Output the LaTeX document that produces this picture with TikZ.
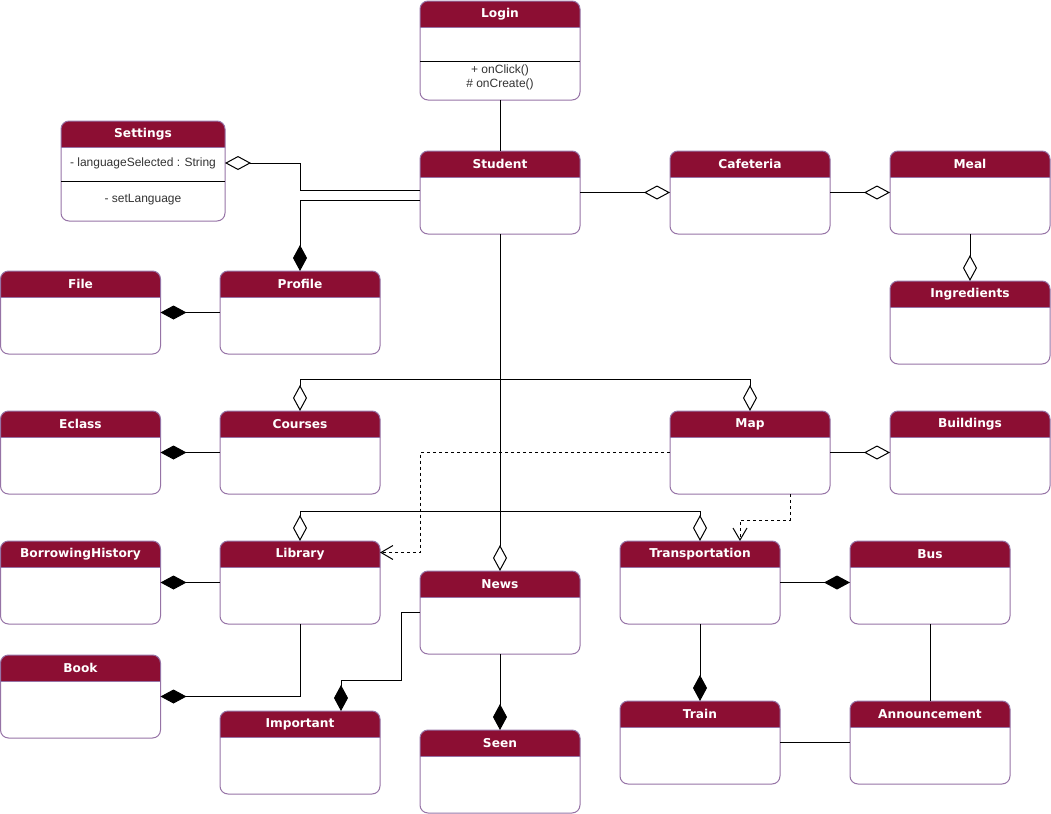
\documentclass[tikz,border=0pt]{standalone}
\usepackage{fontspec}
\usepackage{xcolor}
\usetikzlibrary{arrows.meta}
\newfontfamily\headfont{DejaVu Sans}
\newfontfamily\bodyfont{Liberation Sans}
\definecolor{umlred}{RGB}{140,14,51}
\definecolor{umlline}{RGB}{150,115,166}
\definecolor{umltext}{RGB}{51,51,51}
% class box: [size], name, top centre (px), title
\newcommand{\umlclass}[4][]{%
  \node[classbox,#1] (#2) at (#3) {};
  \begin{scope}
    \clip (#2.north west) rectangle ([yshift=-13pt]#2.north east);
    \fill[umlred,rounded corners=4pt] (#2.north west) rectangle (#2.south east);
  \end{scope}
  \draw[classline] ([yshift=-13pt]#2.north west) -- ([yshift=-13pt]#2.north east);
  \draw[classline,rounded corners=4pt] (#2.north west) rectangle (#2.south east);
  \node[classtitle] (#2-title) at ([yshift=-6.7pt]#2.north) {#4};
}

\begin{document}
\begin{tikzpicture}[x=0.5pt,y=-0.5pt,
    classbox/.style={rectangle,fill=white,inner sep=0pt,outer sep=0pt,
      minimum width=80pt,minimum height=41.5pt,anchor=north},
    classline/.style={umlline,line width=0.5pt},
    classtitle/.style={text=white,inner sep=0pt,
      font=\headfont\bfseries\fontsize{6.1}{7}\selectfont},
    member/.style={text=umltext,inner sep=0pt,
      font=\bodyfont\fontsize{6}{7}\selectfont},
    link/.style={line width=0.5pt},
    aggr/.style={link,-{Diamond[open,fill=white,length=13pt,width=7pt]}},
    comp/.style={link,-{Diamond[length=13pt,width=7pt]}},
    depend/.style={link,dash pattern=on 1.5pt off 1.5pt,
      -{Straight Barb[length=6pt,width=7pt]}}]
  \useasboundingbox (0,0) rectangle (1051,814);

  %% Classes
  \umlclass[minimum height=49.5pt]{login}{500,1}{Login}
  \umlclass[minimum width=82pt,minimum height=50pt]{settings}{143,121}{Settings}
  \umlclass{student}{500,151}{Student}
  \umlclass{cafeteria}{750,151}{Cafeteria}
  \umlclass{meal}{970,151}{Meal}
  \umlclass{ingredients}{970,281}{Ingredients}
  \umlclass{file}{80.5,271}{File}
  \umlclass{profile}{300,271}{Profile}
  \umlclass{eclass}{80.5,411}{Eclass}
  \umlclass{courses}{300,411}{Courses}
  \umlclass{map}{750,411}{Map}
  \umlclass{buildings}{970,411}{Buildings}
  \umlclass{history}{80.5,541}{BorrowingHistory}
  \umlclass{library}{300,541}{Library}
  \umlclass{news}{500,571}{News}
  \umlclass{transport}{700,541}{Transportation}
  \umlclass{bus}{930,541}{Bus}
  \umlclass{book}{80.5,655}{Book}
  \umlclass{important}{300,711}{Important}
  \umlclass{seen}{500,730}{Seen}
  \umlclass{train}{700,701}{Train}
  \umlclass{announce}{930,701}{Announcement}

  %% Members
  \draw[link] (420,61) coordinate (login-div) -- (580,61);
  \node[member] (login-click) at (500,70) {+ onClick()};
  \node[member] (login-create) at (500,84) {\# onCreate()};
  \node[member] (settings-attr) at (143,163) {- languageSelected : String};
  \draw[link] (61,181) coordinate (settings-div) -- (225,181);
  \node[member] (settings-op) at (143,200) {- setLanguage};

  %% Connectors
  \draw[link] (login.south) -- (student.north);
  \draw[aggr] ([yshift=1pt]student.west) -- ++(-120,0) |- ([yshift=4pt]settings.east);
  \draw[comp] ([yshift=-4pt]student.west) -| (profile.north);
  \draw[aggr] (student.east) -- (cafeteria.west);
  \draw[aggr] (cafeteria.east) -- (meal.west);
  \draw[aggr] (meal.south) -- (ingredients.north);
  \draw[comp] (profile.west) -- (file.east);
  \draw[aggr] (student.south) -- ++(0,145) -| (courses.north);
  \draw[aggr] (student.south) -- ++(0,145) -| (map.north);
  \draw[comp] (courses.west) -- (eclass.east);
  \draw[aggr] (map.east) -- (buildings.west);
  \draw[aggr] (student.south) -- (news.north);
  \draw[aggr] (student.south) -- ++(0,277) -| (library.north);
  \draw[aggr] (student.south) -- ++(0,277) -| (transport.north);
  \draw[depend] (map.west) -- ++(-250,0) |- ([yshift=15pt]library.east);
  \draw[depend] ([xshift=20pt]map.south) -- ++(0,26) -| ([xshift=20pt]transport.north);
  \draw[comp] (library.west) -- (history.east);
  \draw[comp] (library.south) |- (book.east);
  \draw[comp] (news.west) -- ++(-19,0) -- ++(0,68) -| ([xshift=20.5pt]important.north);
  \draw[comp] (news.south) -- (seen.north);
  \draw[comp] (transport.east) -- (bus.west);
  \draw[comp] (transport.south) -- (train.north);
  \draw[link] (bus.south) -- (announce.north);
  \draw[link] (train.east) -- (announce.west);
\end{tikzpicture}
\end{document}
